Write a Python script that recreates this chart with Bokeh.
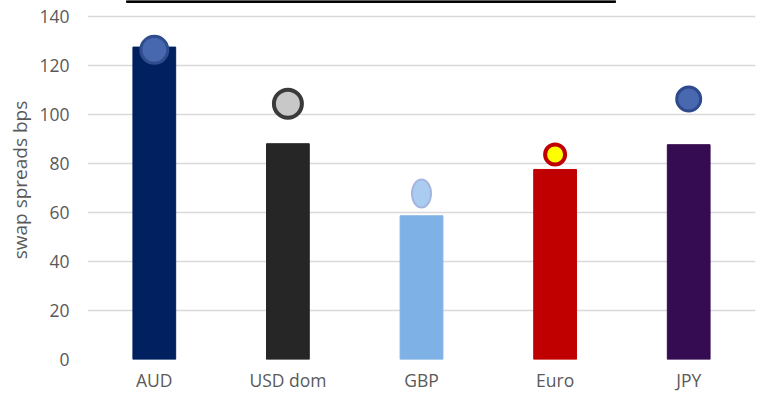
from bokeh.plotting import figure
from bokeh.models import FactorRange, Range1d, FixedTicker
from bokeh.embed import file_html
from bokeh.resources import INLINE

# ---- data ----
categories = ["AUD", "USD dom", "GBP", "Euro", "JPY"]
bar_values = [127.4, 88.0, 58.6, 77.5, 87.6]
marker_values = [126.3, 104.3, 67.7, 83.6, 106.2]
y_ticks = [0, 20, 40, 60, 80, 100, 120, 140]

# ---- styles ----
bar_colors = ["#002060", "#262626", "#7EB1E6", "#C00000", "#350C51"]
marker_fill = ["#4767AF", "#C8C8C8", "#A9CCF0", "#FFFF00", "#4868B0"]
marker_line = ["#2F4C8C", "#3A3A3A", "#A4B6E0", "#C00000", "#2F4A8C"]
marker_size = [27, 28, None, 20, 24]
marker_lw = [3, 4, 2, 4, 3]
text_color = "#595959"
font = "Open Sans"

p = figure(
    width=761, height=394,
    x_range=FactorRange(factors=categories, range_padding=0),
    y_range=Range1d(0, 146.4),
    output_backend="svg", toolbar_location=None,
    min_border_left=87, min_border_right=6, min_border_top=0, min_border_bottom=35,
)
p.outline_line_color = None
p.background_fill_color = "white"
p.border_fill_color = "white"

# bars
p.vbar(x=categories, top=bar_values, width=0.32, color=bar_colors)

# markers
for i, cat in enumerate(categories):
    if cat == "GBP":
        p.ellipse(x=[cat], y=[marker_values[i]], width=19, height=28,
                  width_units="screen", height_units="screen",
                  fill_color=marker_fill[i], line_color=marker_line[i],
                  line_width=marker_lw[i])
    else:
        p.scatter(x=[cat], y=[marker_values[i]], size=marker_size[i], marker="circle",
                  fill_color=marker_fill[i], line_color=marker_line[i],
                  line_width=marker_lw[i])

# decorative black line at top (cut-off title box edge)
p.quad(left=[("AUD", -0.208)], right=[("Euro", 0.452)], bottom=[145.6], top=[146.4],
       color="black")

# axes
p.yaxis.ticker = FixedTicker(ticks=y_ticks)
p.yaxis.axis_line_color = None
p.yaxis.major_tick_line_color = None
p.yaxis.minor_tick_line_color = None
p.yaxis.major_tick_out = 0
p.yaxis.major_tick_in = 0
p.yaxis.minor_tick_out = 0
p.yaxis.major_label_text_font = font
p.yaxis.major_label_text_font_size = "17.5px"
p.yaxis.major_label_text_color = text_color
p.yaxis.major_label_standoff = 18
p.yaxis.axis_label = "swap spreads bps"
p.yaxis.axis_label_text_font = font
p.yaxis.axis_label_text_font_size = "19px"
p.yaxis.axis_label_text_font_style = "normal"
p.yaxis.axis_label_text_color = text_color
p.yaxis.axis_label_standoff = 3

p.xaxis.axis_line_color = None
p.xaxis.major_tick_line_color = None
p.xaxis.minor_tick_line_color = None
p.xaxis.major_tick_out = 0
p.xaxis.major_tick_in = 0
p.xaxis.minor_tick_out = 0
p.xaxis.major_label_text_font = font
p.xaxis.major_label_text_font_size = "17.5px"
p.xaxis.major_label_text_color = text_color
p.xaxis.major_label_standoff = 8

p.xgrid.grid_line_color = None
p.ygrid.grid_line_color = "#D9D9D9"
p.ygrid.grid_line_width = 1.5

open("out.html", "w").write(file_html(p, INLINE))
